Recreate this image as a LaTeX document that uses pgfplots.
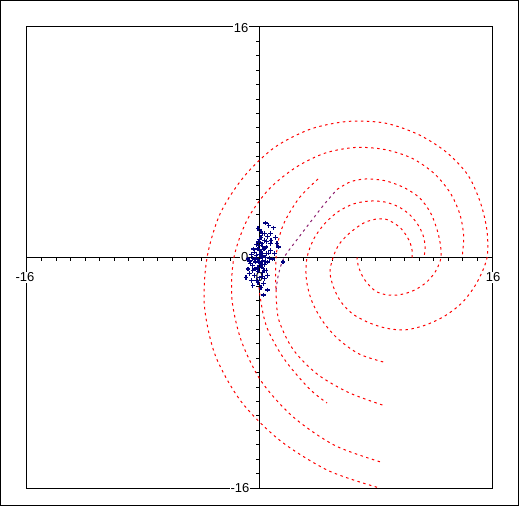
\documentclass[border=0pt]{standalone}
\usepackage{fontspec}
\setmainfont{Liberation Sans}
\usepackage{pgfplots}
\pgfplotsset{compat=1.18}
\definecolor{navyc}{RGB}{0,0,128}
\definecolor{purp}{RGB}{140,30,110}
\begin{document}
\begin{tikzpicture}
\draw[line width=1pt] (0.5pt,0.5pt) rectangle (518.5pt,505.5pt);
\begin{axis}[at={(27pt,18pt)}, anchor=south west, scale only axis, width=465pt, height=461pt,
 xmin=-16,xmax=16,ymin=-16,ymax=16, axis lines=middle, axis line style={-,line width=1pt,black},
 xtick={-16,...,16}, ytick={-16,...,16}, xticklabels={}, yticklabels={},
 tick align=outside, major tick length=3.5pt, tick style={black,line width=1pt}, clip=false,
 spiral/.style={red, line width=1pt, dash pattern=on 2.5pt off 3.5pt, smooth}]
\draw[line width=1pt] (rel axis cs:0,0) rectangle (rel axis cs:1,1);
% T1
\addplot[spiral] coordinates {
(8.09,-15.95) (4.71,-14.78) (1.38,-12.68) (-1.27,-9.99) (-3.04,-6.80) (-3.79,-3.36) (-3.61,0)
(-2.70,3.06) (-1.05,5.64) (1.05,7.65) (3.53,8.92) (6.12,9.45) (8.64,9.33) (10.91,8.55) (12.84,7.33)
(14.33,5.74) (15.20,3.82) (15.65,1.89) (15.66,0) (14.98,-1.71) (13.97,-3.11) (12.70,-4.09)
(11.34,-4.72) (9.97,-5.03) (8.64,-4.89) (7.45,-4.49) (6.40,-3.91) (5.60,-3.07) (5.09,-2.06)
(4.85,-1.02) (5.06,0) (5.44,0.86) (6.02,1.53) (6.62,2.03) (7.24,2.43) (7.94,2.65) (8.64,2.67)
(9.27,2.38) (9.77,1.98) (10.12,1.50) (10.37,1.01) (10.50,0.50) (10.50,0)};
% B
\addplot[spiral] coordinates {
(8.29,-14.18) (5.17,-13.04) (2.31,-11.06) (0.12,-8.59) (-1.26,-5.76) (-1.90,-2.85) (-1.76,0)
(-0.87,2.57) (0.59,4.68) (2.46,6.23) (4.49,7.24) (6.61,7.64) (8.64,7.49) (10.47,6.90) (11.99,5.86)
(13.11,4.51) (13.79,3.00) (14.05,1.46) (13.94,0)};
% A
\addplot[spiral] coordinates {
(8.51,-7.25) (6.86,-6.70) (5.40,-5.65) (4.31,-4.37) (3.57,-2.95) (3.22,-1.46) (3.27,0)
(3.75,1.32) (4.52,2.39) (5.45,3.21) (6.50,3.73) (7.60,3.92) (8.64,3.85) (9.57,3.52) (10.34,2.97)
(10.90,2.28) (11.26,1.53) (11.40,0.75) (11.32,0)};
% C tail
\addplot[spiral] coordinates {
(8.46,-10.24) (6.15,-9.38) (3.99,-8.11) (2.31,-6.38) (1.31,-4.27) (1.14,-2.26)};
% C purple section
\addplot[purp, line width=1pt, dash pattern=on 2.5pt off 3.5pt, smooth] coordinates {
(1.14,-2.26) (1.30,-1.20) (1.69,0) (2.65,1.33) (3.61,2.60) (4.50,3.75) (5.33,4.72)};
% C upper arc and inner lower arc
\addplot[spiral] coordinates {
(5.33,4.72) (6.25,5.25) (7.30,5.45) (8.64,5.33) (9.93,4.86) (11.01,4.15) (11.75,3.14) (12.18,2.06) (12.43,1.02)
(12.49,0) (12.13,-0.94) (11.53,-1.68) (10.81,-2.19) (10.07,-2.49) (9.33,-2.62) (8.64,-2.57)
(8.01,-2.35) (7.54,-1.92) (7.18,-1.47) (6.94,-0.99) (6.78,-0.50) (6.71,0)};
% D
\addplot[spiral] coordinates {
(4.03,5.45) (2.75,4.16) (1.75,2.53) (1.33,1.30) (1.14,0) (1.11,-1.34) (1.14,-2.26)};
% E
\addplot[spiral] coordinates {
(0.01,-1.22) (-0.01,-2.33) (0.47,-4.75) (1.68,-7.02) (3.42,-9.10) (4.65,-10.10)};
% labels
\node[fill=white, inner sep=1pt, font=\fontsize{13}{13}\selectfont, anchor=center, xshift=-2pt, yshift=-20pt] at (axis cs:-16,0) {-16};
\node[fill=white, inner sep=1pt, font=\fontsize{13}{13}\selectfont, anchor=center, xshift=1pt, yshift=-20pt] at (axis cs:16,0) {16};
\node[fill=white, inner sep=1pt, font=\fontsize{13}{13}\selectfont, anchor=center, yshift=-20pt] at (axis cs:0,0) {0};
\node[fill=white, inner sep=1pt, font=\fontsize{13}{13}\selectfont, anchor=east, xshift=-10pt, yshift=-1pt] at (axis cs:0,16) {16};
\node[fill=white, inner sep=1pt, font=\fontsize{13}{13}\selectfont, anchor=east, xshift=-9pt] at (axis cs:0,-16) {-16};
\node[fill=white, inner sep=1pt, font=\fontsize{13}{13}\selectfont, anchor=east, xshift=-10pt] at (axis cs:0,0) {0};
% points
\addplot[navyc, only marks, mark=+, mark size=2.3pt, line width=1.3pt] coordinates {
(0.64,2.23) (0.97,2.06) (0.23,1.65) (0.76,1.65) (0.11,1.41) (0.0,1.23) (0.34,1.18) (-0.05,1.07)
(0.18,0.95) (0.74,0.99) (1.20,0.99) (-0.05,0.83) (0.23,0.77) (-0.11,0.60) (0.46,0.72) (1.29,0.72)
(0.76,0.49) (0.0,0.49) (-0.34,0.37) (0.23,0.30) (0.46,0.26) (-0.57,0.21) (-0.23,0.14) (0.11,0.07)
(0.41,0.02) (0.69,-0.09) (-0.46,-0.09) (-0.11,-0.16) (0.23,-0.21) (-0.69,-0.25) (-0.28,-0.32)
(0.05,-0.39) (0.34,-0.49) (0.57,-0.32) (-0.46,-0.56) (-0.11,-0.67) (0.18,-0.67) (-0.80,-0.79)
(-0.46,-0.90) (-0.11,-0.95) (0.23,-1.02) (0.46,-0.90) (-0.69,-1.13) (-0.92,-1.37) (-0.34,-1.25)
(0.0,-1.41) (0.34,-1.48) (0.57,-1.25) (-0.57,-1.60) (-0.11,-1.72) (0.28,-1.79) (-0.46,-1.95)
(0.11,-2.07) (0.57,-2.25) (0.28,-2.60) (1.61,-0.32) (1.03,0.26) (0.34,1.65) (0.57,1.46)
(0.1,0.4) (0.3,0.6) (-0.2,0.9) (0.5,1.1) (0.1,-0.5) (-0.3,-0.1) (0.4,-0.3) (-0.6,-0.4)
(0.2,-1.3) (-0.2,-1.6) (0.6,0.3) (0.9,-0.1) (-0.1,2.0) (0.4,2.4) (1.1,1.4) (0.8,1.2)
(-0.8,-0.1) (0.0,-0.3) (0.2,0.1) (-0.4,0.6) (0.1,1.8) (-0.3,-0.8) (0.3,-0.9) (0.0,0.2)};
\end{axis}
\end{tikzpicture}
\end{document}
